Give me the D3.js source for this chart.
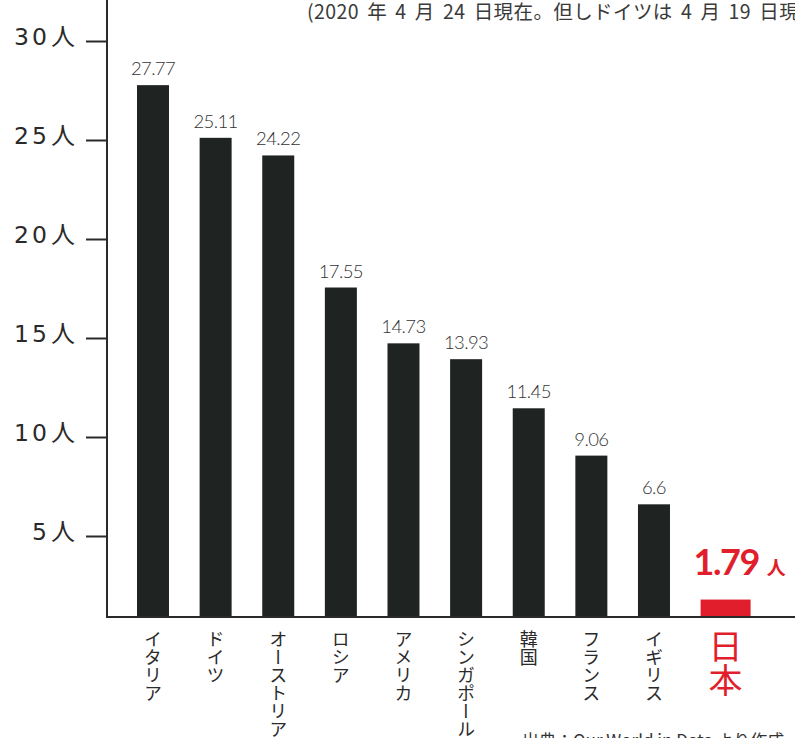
<!DOCTYPE html>
<html lang="ja">
<head>
<meta charset="utf-8">
<script src="https://cdn.jsdelivr.net/npm/d3@7"></script>
<style>
  html, body { margin: 0; padding: 0; background: #fff; }
  svg { display: block; }
</style>
</head>
<body>
<svg id="chart" width="795" height="738"></svg>
<script>
// Countries and values (people per 1,000 tested)
const countries = ["イタリア", "ドイツ", "オーストリア", "ロシア", "アメリカ", "シンガポール", "韓国", "フランス", "イギリス", "日本"];
const values = [27.77, 25.11, 24.22, 17.55, 14.73, 13.93, 11.45, 9.06, 6.6, 1.79];
const valueLabels = ["27.77", "25.11", "24.22", "17.55", "14.73", "13.93", "11.45", "9.06", "6.6", "1.79"];
const yTicks = [5, 10, 15, 20, 25, 30];
const highlight = "日本";
const noteText = "(2020 年 4 月 24 日現在。但しドイツは 4 月 19 日現在)";
const sourceText = "出典：Our World in Data より作成";

const W = 795, H = 738;
const axisX = 107, baseY = 617;
const dark = "#1f2321", red = "#e11f2c", ink = "#2a2a2a";
const barW = 32, hiBarW = 50, hiShift = 9;

const svg = d3.select("#chart");

const y = d3.scaleLinear().domain([0, 30]).range([635, 41]);
const x = d3.scalePoint().domain(countries).range([153, 716.6]);

// Note at the top (runs past the right edge)
svg.append("text")
  .attr("x", 307).attr("y", 19)
  .attr("font-family", "'Noto Sans CJK JP', 'Noto Sans', sans-serif")
  .attr("font-size", 19.5).attr("fill", "#3a3a3a")
  .attr("letter-spacing", 0.4).attr("word-spacing", 3.5)
  .text(noteText);

// Bars
const rows = countries.map((c, i) => ({ c, v: values[i], label: valueLabels[i] }));
const cx = d => x(d.c) + (d.c === highlight ? hiShift : 0);
const bw = d => d.c === highlight ? hiBarW : barW;

svg.append("g").selectAll("rect").data(rows).join("rect")
  .attr("x", d => cx(d) - bw(d) / 2)
  .attr("width", d => bw(d))
  .attr("y", d => y(d.v))
  .attr("height", d => baseY - y(d.v))
  .attr("fill", d => d.c === highlight ? red : dark);

// Value labels
svg.append("g").selectAll("text").data(rows.filter(d => d.c !== highlight)).join("text")
  .attr("x", d => cx(d))
  .attr("y", d => y(d.v) - 10)
  .attr("text-anchor", "middle")
  .attr("font-family", "Lato, 'Open Sans', sans-serif")
  .attr("font-weight", 300)
  .attr("font-size", 18.5)
  .attr("letter-spacing", -0.6)
  .attr("fill", "#333")
  .text(d => d.label);

const hi = rows.find(d => d.c === highlight);
const hiLabel = svg.append("text")
  .attr("x", cx(hi) - hiBarW / 2 - 7)
  .attr("y", y(hi.v) - 25)
  .attr("fill", red);
hiLabel.append("tspan")
  .attr("font-family", "Lato, sans-serif")
  .attr("font-weight", 700)
  .attr("font-size", 36)
  .attr("letter-spacing", -1.5)
  .text(hi.label);
hiLabel.append("tspan")
  .attr("dx", 8)
  .attr("font-family", "'Noto Sans CJK JP', sans-serif")
  .attr("font-weight", 700)
  .attr("font-size", 19)
  .text("人");

// Y axis with ticks
const yAxis = d3.axisLeft(y).tickValues(yTicks).tickSize(21).tickPadding(11);
const gy = svg.append("g").attr("transform", `translate(${axisX},0)`).call(yAxis);
gy.select(".domain").remove();
gy.selectAll(".tick line").attr("stroke", ink).attr("stroke-width", 2);
gy.selectAll(".tick text").each(function(d) {
  const t = d3.select(this).text("").attr("fill", ink).attr("dy", "0.36em");
  t.append("tspan")
    .attr("font-family", "'DejaVu Sans', sans-serif")
    .attr("font-size", 23.5)
    .attr("letter-spacing", 3)
    .text(d);
  t.append("tspan")
    .attr("dx", 1)
    .attr("font-family", "'Noto Sans CJK JP', sans-serif")
    .attr("font-size", 24)
    .text("人");
});

// Axis lines
svg.append("line").attr("x1", axisX).attr("x2", axisX).attr("y1", 0).attr("y2", baseY + 1)
  .attr("stroke", ink).attr("stroke-width", 2);
svg.append("line").attr("x1", axisX - 1).attr("x2", W).attr("y1", baseY).attr("y2", baseY)
  .attr("stroke", ink).attr("stroke-width", 2);

// Category labels, written vertically
svg.append("g").selectAll("text").data(rows).join("text")
  .attr("x", d => cx(d))
  .attr("y", d => d.c === highlight ? 629 : 630)
  .attr("writing-mode", "vertical-rl")
  .attr("text-orientation", "upright")
  .attr("font-family", "'Noto Sans CJK JP', sans-serif")
  .attr("font-size", d => d.c === highlight ? 34 : 18)
  .attr("fill", d => d.c === highlight ? red : ink)
  .text(d => d.c);

// Source line along the bottom edge
svg.append("text")
  .attr("x", 522).attr("y", 747)
  .attr("font-family", "'Noto Sans CJK JP', sans-serif")
  .attr("font-size", 17).attr("fill", "#333")
  .text(sourceText);
</script>
</body>
</html>
